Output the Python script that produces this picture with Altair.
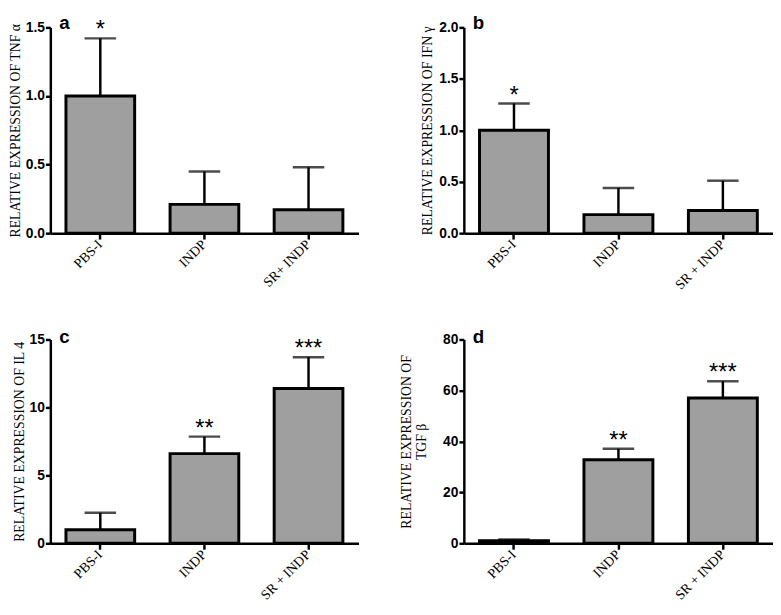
import altair as alt
import pandas as pd

# ---- data ----
groups_a = ["PBS-I", "INDP", "SR+ INDP"]
groups = ["PBS-I", "INDP", "SR + INDP"]

tnf_mean = [1.00, 0.21, 0.17]
tnf_sd = [0.42, 0.24, 0.31]
tnf_sig = ["*", "", ""]

ifn_mean = [1.00, 0.18, 0.22]
ifn_sd = [0.26, 0.26, 0.29]
ifn_sig = ["*", "", ""]

il4_mean = [1.0, 6.6, 11.4]
il4_sd = [1.25, 1.25, 2.3]
il4_sig = ["", "**", "***"]

tgf_mean = [1.0, 32.8, 57.0]
tgf_sd = [0.5, 4.3, 6.6]
tgf_sig = ["", "**", "***"]

GRAY = "#9f9f9f"


def panel(letter, letter_y, cats, means, sds, sig, ytitle, ticks, fmt, w, h, title_pad):
    df = pd.DataFrame({"group": cats, "mean": means, "sd": sds, "sig": sig})
    df["upper"] = df["mean"] + df["sd"]
    x = alt.X("group:N", sort=cats, title=None,
              scale=alt.Scale(paddingInner=0.34, paddingOuter=0.15),
              axis=alt.Axis(labelAngle=-45, labelAlign="right",
                            labelBaseline="middle", labelPadding=3))
    y = alt.Y("mean:Q", title=ytitle,
              scale=alt.Scale(domain=[ticks[0], ticks[-1]], nice=False),
              axis=alt.Axis(values=ticks, format=fmt, titlePadding=title_pad))
    base = alt.Chart(df)
    bars = base.mark_bar(fill=GRAY, stroke="black", strokeWidth=3).encode(x=x, y=y)
    err = base.mark_rule(strokeWidth=2.5, color="black").encode(
        x=x, y="mean:Q", y2="upper:Q")
    cap = base.mark_tick(size=32, thickness=2.5, color="black").encode(
        x=x, y="upper:Q")
    stars = base.mark_text(fontSize=24, baseline="alphabetic", dy=-1,
                           font="Liberation Sans", color="black").encode(
        x=x, y="upper:Q", text="sig:N")
    lab = alt.Chart(pd.DataFrame({"t": [letter]})).mark_text(
        font="Liberation Sans", fontWeight="bold", fontSize=19, align="left",
        baseline="alphabetic", color="black").encode(
        x=alt.value(9), y=alt.value(letter_y), text="t:N")
    return alt.layer(bars, err, cap, stars, lab).properties(width=w, height=h)


pa = panel("a", 2, groups_a, tnf_mean, tnf_sd, tnf_sig,
           "RELATIVE EXPRESSION OF TNF α", [0, 0.5, 1.0, 1.5], ".1f", 313, 209, 3)
pb = panel("b", 2, groups, ifn_mean, ifn_sd, ifn_sig,
           "RELATIVE EXPRESSION OF IFN γ", [0, 0.5, 1.0, 1.5, 2.0], ".1f", 314, 209, 4)
pc = panel("c", 4, groups, il4_mean, il4_sd, il4_sig,
           "RELATIVE EXPRESSION OF IL 4", [0, 5, 10, 15], "d", 313, 207, 3)
pd_ = panel("d", 4, groups, tgf_mean, tgf_sd, tgf_sig,
            ["RELATIVE EXPRESSION OF", "TGF β"], [0, 20, 40, 60, 80], "d", 314, 207, 14)

chart = alt.vconcat(
    alt.hconcat(pa, pb, spacing=63),
    alt.hconcat(pc, pd_, spacing=41),
    spacing=37,
).properties(
    padding={"left": 0, "top": 2, "right": 0, "bottom": 0}
).configure_view(stroke=None).configure_axis(
    domainColor="black", domainWidth=2.5, tickColor="black", tickWidth=2.5,
    tickSize=6, grid=False, labelColor="black", titleColor="black"
).configure_axisY(
    labelFont="Liberation Sans", labelFontWeight="bold", labelFontSize=14,
    labelPadding=1, tickSize=5,
    titleFont="Liberation Serif", titleFontWeight="normal", titleFontSize=14
).configure_axisX(
    labelFont="Liberation Serif", labelFontSize=14
)

chart.save("out.html", embed_options={"renderer": "svg", "actions": False})
